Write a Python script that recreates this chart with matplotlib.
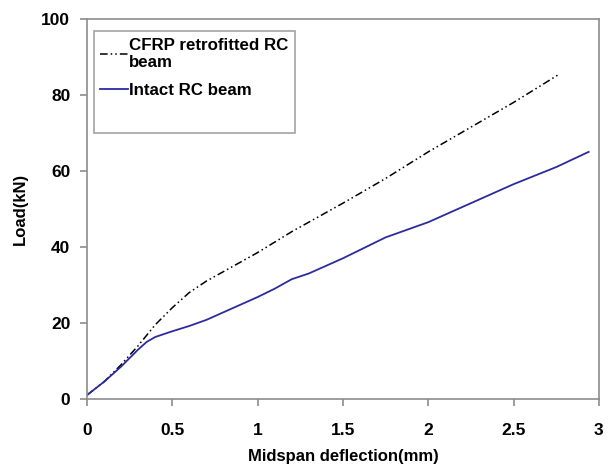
import matplotlib

matplotlib.use("Agg")
import matplotlib.pyplot as plt

# Load-deflection readings taken from the reference curves
cfrp_defl = [0.0, 0.1, 0.2, 0.3, 0.4, 0.5, 0.6, 0.7, 0.8, 1.0, 1.2, 1.5,
             1.75, 2.0, 2.25, 2.5, 2.77]
cfrp_load = [1.0, 4.5, 9.0, 14.0, 19.5, 24.0, 28.0, 31.0, 33.5, 38.5, 44.0,
             51.5, 58.0, 65.0, 71.5, 78.0, 85.5]

intact_defl = [0.0, 0.1, 0.2, 0.3, 0.35, 0.4, 0.5, 0.6, 0.7, 0.8, 0.9, 1.0,
               1.1, 1.2, 1.3, 1.5, 1.75, 2.0, 2.25, 2.5, 2.75, 2.94]
intact_load = [1.0, 4.5, 8.5, 13.0, 15.0, 16.3, 17.8, 19.2, 20.8, 22.8, 24.8,
               26.8, 29.0, 31.5, 33.0, 37.0, 42.5, 46.5, 51.5, 56.5, 61.0, 65.0]

x_ticks = [0, 0.5, 1, 1.5, 2, 2.5, 3]
x_tick_labels = ["0", "0.5", "1", "1.5", "2", "2.5", "3"]
y_ticks = [0, 20, 40, 60, 80, 100]

FRAME = "#8C8C8C"
BLUE = "#2B2B9E"

plt.rcParams.update({
    "font.family": "sans-serif",
    "font.sans-serif": ["Liberation Sans", "Arial", "DejaVu Sans"],
    "font.weight": "bold",
})

fig = plt.figure(figsize=(6.08, 4.71), dpi=100)
ax = fig.add_axes([0.143, 0.153, 0.842, 0.807])

ax.plot(cfrp_defl, cfrp_load, color="black", lw=1.1,
        dashes=(5, 2, 1, 2, 1, 2), label="CFRP retrofitted RC\nbeam")
ax.plot(intact_defl, intact_load, color=BLUE, lw=1.3, label="Intact RC beam")
# blank row: the original legend box leaves an empty line under the entries
ax.plot([], [], color="none", label=" ")

ax.set_xlim(0, 3)
ax.set_ylim(0, 100)
ax.set_xticks(x_ticks)
ax.set_xticklabels(x_tick_labels)
ax.set_yticks(y_ticks)
for s in ax.spines.values():
    s.set_color(FRAME)
    s.set_linewidth(1.2)
ax.tick_params(direction="out", length=5, width=1.2, color=FRAME,
               labelsize=12.5, labelcolor="black")
ax.tick_params(axis="x", pad=12)
ax.tick_params(axis="y", pad=7)

ax.set_xlabel("Midspan deflection(mm)", fontsize=12, fontweight="bold", labelpad=8)
ax.set_ylabel("Load(kN)", fontsize=12, fontweight="bold", labelpad=10)

leg = ax.legend(loc="upper left", bbox_to_anchor=(0.0, 0.985), fontsize=12.2,
                frameon=True, fancybox=False, borderpad=0.4, handlelength=1.6,
                handletextpad=0.1, labelspacing=0.75, borderaxespad=0.4)
leg.get_frame().set_edgecolor(FRAME)
leg.get_frame().set_linewidth(1.2)
for t in leg.get_texts():
    t.set_fontweight("bold")

fig.savefig("out.png", dpi=100)
